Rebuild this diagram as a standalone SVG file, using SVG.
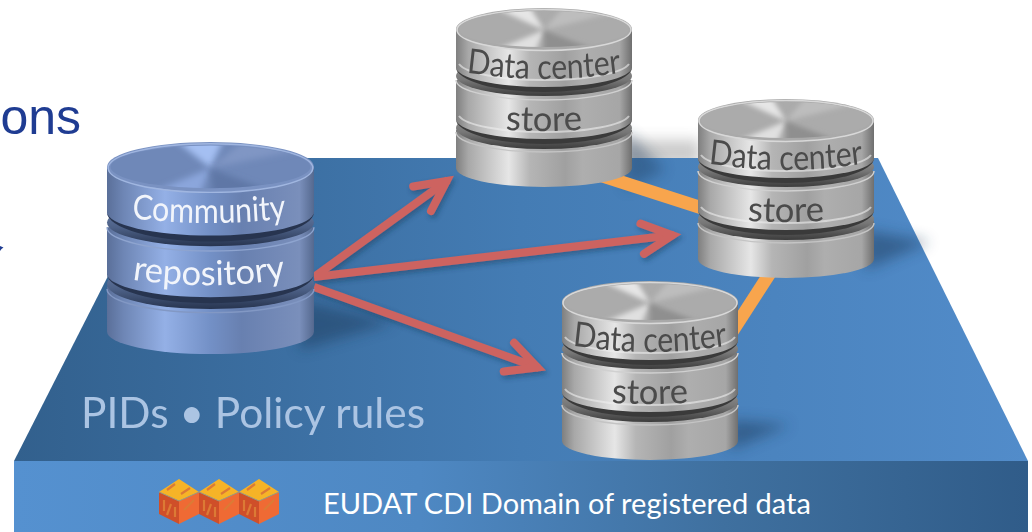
<svg xmlns="http://www.w3.org/2000/svg" width="1032" height="532" viewBox="0 0 1032 532">
<style>
text{font-family:"Lato","Carlito","Liberation Sans",sans-serif}
.dc{font-size:34.5px;fill:#4b4b4b;text-anchor:middle}
.st{font-size:34.5px;fill:#4b4b4b;text-anchor:middle}
.co{font-size:34.5px;fill:#f2f5fb;text-anchor:middle}
.red{fill:none;stroke:#cd6460;stroke-width:8;marker-end:url(#chev)}
.or{fill:none;stroke:#f8a54d;stroke-width:13}
</style>
<defs>
<linearGradient id="plat" x1="0" x2="1" y1="0" y2="0"><stop offset="0" stop-color="#32608d"/><stop offset=".5" stop-color="#447cb4"/><stop offset="1" stop-color="#528cca"/></linearGradient>
<linearGradient id="band" x1="0" x2="1" y1="0" y2="0"><stop offset="0" stop-color="#5591d0"/><stop offset=".4" stop-color="#4e88c3"/><stop offset=".7" stop-color="#3f709f"/><stop offset="1" stop-color="#305c89"/></linearGradient>
<linearGradient id="gs" x1="0" x2="1" y1="0" y2="0"><stop offset="0" stop-color="#7f7f7f"/><stop offset=".07" stop-color="#a8a8a8"/><stop offset=".3" stop-color="#e6e6e6"/><stop offset=".42" stop-color="#b5b5b5"/><stop offset=".62" stop-color="#a0a0a0"/><stop offset=".72" stop-color="#aeaeae"/><stop offset=".93" stop-color="#a6a6a6"/><stop offset="1" stop-color="#6f6f6f"/></linearGradient>
<linearGradient id="bs" x1="0" x2="1" y1="0" y2="0"><stop offset="0" stop-color="#5a6f99"/><stop offset=".08" stop-color="#6e86b5"/><stop offset=".28" stop-color="#94b0e6"/><stop offset=".5" stop-color="#7390c6"/><stop offset=".65" stop-color="#6880b0"/><stop offset=".93" stop-color="#7a8fbb"/><stop offset="1" stop-color="#55698f"/></linearGradient>
<linearGradient id="gd" x1="0" x2="0" y1="0" y2="1"><stop offset="0" stop-color="#a0a0a0"/><stop offset=".6" stop-color="#777"/><stop offset="1" stop-color="#3c3c3c"/></linearGradient>
<linearGradient id="bd" x1="0" x2="0" y1="0" y2="1"><stop offset="0" stop-color="#7389b5"/><stop offset=".6" stop-color="#4d6187"/><stop offset="1" stop-color="#27344f"/></linearGradient>
<filter id="b2" x="-40%" y="-40%" width="180%" height="180%"><feGaussianBlur stdDeviation="2.500"/></filter>
<filter id="b8" x="-40%" y="-60%" width="180%" height="220%"><feGaussianBlur stdDeviation="7"/></filter>
<filter id="sh" x="-10%" y="-20%" width="120%" height="150%"><feDropShadow dx="2" dy="3" stdDeviation="2.500" flood-color="#1c3858" flood-opacity=".45"/></filter>
<clipPath id="tc"><ellipse cx="88" cy="21" rx="85" ry="18"/></clipPath>
<marker id="chev" markerUnits="strokeWidth" markerWidth="8" markerHeight="8" refX="5.300" refY="3" orient="auto" overflow="visible"><path d="M1.300 1.100L5.100 3L1.300 4.900" fill="none" stroke="#cd6460" stroke-width="1" stroke-linecap="round"/></marker>
<g id="gcyl">
<path d="M0 122V160A88 19 0 0 0 176 160V122Z" fill="url(#gs)"/>
<ellipse cx="88" cy="120" rx="88" ry="21" fill="url(#gd)"/>
<path d="M0 124A88 20 0 0 0 176 124" fill="none" stroke="#c4c4c4" stroke-width="1.500"/>
<path d="M0 72V112A88 20 0 0 0 176 112V72Z" fill="url(#gs)"/>
<path d="M0 111A88 20 0 0 0 176 111A88 25 0 0 1 0 111Z" fill="#3a3a3a"/>
<path d="M3 108A86 19 0 0 0 173 108" fill="none" stroke="#eee" stroke-width="2" opacity=".6"/>
<ellipse cx="88" cy="68" rx="88" ry="20" fill="url(#gd)"/>
<path d="M0 72A88 20 0 0 0 176 72" fill="none" stroke="#d0d0d0" stroke-width="1.500"/>
<path d="M0 21V60A88 20 0 0 0 176 60V21Z" fill="url(#gs)"/>
<path d="M0 59A88 20 0 0 0 176 59A88 25 0 0 1 0 59Z" fill="#3a3a3a"/>
<path d="M3 56A86 19 0 0 0 173 56" fill="none" stroke="#eee" stroke-width="2" opacity=".6"/>
<ellipse cx="88" cy="21" rx="88" ry="21" fill="#a9a9a9"/>
<ellipse cx="88" cy="22" rx="87" ry="20.500" fill="none" stroke="#d8d8d8" stroke-width="1.500"/>
<g clip-path="url(#tc)"><rect x="0" y="0" width="176" height="44" fill="#ababab"/>
<path d="M88 22L30 -4L72 -4Z" fill="#e6e6e6" filter="url(#b2)"/>
<path d="M88 22L30 46L78 46Z" fill="#e0e0e0" filter="url(#b2)"/>
<path d="M88 22L110 -4L176 0Z" fill="#bdbdbd" filter="url(#b2)"/>
<path d="M88 22L88 46L150 46Z" fill="#8f8f8f" filter="url(#b2)"/>
</g>
</g>
<g id="bcyl">
<path d="M0 122V160A88 19 0 0 0 176 160V122Z" fill="url(#bs)"/>
<ellipse cx="88" cy="120" rx="88" ry="21" fill="url(#bd)"/>
<path d="M0 124A88 20 0 0 0 176 124" fill="none" stroke="#8298c4" stroke-width="1.200"/>
<path d="M0 72V112A88 20 0 0 0 176 112V72Z" fill="url(#bs)"/>
<path d="M0 111A88 20 0 0 0 176 111A88 25 0 0 1 0 111Z" fill="#27344f"/>
<ellipse cx="88" cy="68" rx="88" ry="20" fill="url(#bd)"/>
<path d="M0 72A88 20 0 0 0 176 72" fill="none" stroke="#8ea4cf" stroke-width="1.200"/>
<path d="M0 21V60A88 20 0 0 0 176 60V21Z" fill="url(#bs)"/>
<path d="M0 59A88 20 0 0 0 176 59A88 25 0 0 1 0 59Z" fill="#27344f"/>
<ellipse cx="88" cy="21" rx="88" ry="21" fill="#7a92c2"/>
<ellipse cx="88" cy="22" rx="87" ry="20.500" fill="none" stroke="#a0b6e0" stroke-width="1.200"/>
<g clip-path="url(#tc)"><rect x="0" y="0" width="176" height="44" fill="#6f88b8"/>
<path d="M88 22L55 -4L100 -4Z" fill="#a4bff2" filter="url(#b2)"/>
<path d="M88 22L30 46L78 46Z" fill="#8ba6dc" filter="url(#b2)"/>
<path d="M88 22L120 -4L176 4Z" fill="#8096c4" filter="url(#b2)"/>
<path d="M88 22L90 46L150 46Z" fill="#5f77a6" filter="url(#b2)"/>
</g>
</g>
<path id="pd" d="M-10 63Q88 79 186 63"/>
<path id="ps" d="M30 120Q88 126 146 120"/>
<path id="pc" d="M-10 73Q102 89 214 73"/>
<path id="pr" d="M15 136Q102 151 189 135"/>
<g id="cube">
<path d="M0 13L20 0L40 13L20 22Z" fill="#f6b327"/>
<path d="M0 13L20 22V45L0 35Z" fill="#cf4f29"/>
<path d="M40 13L20 22V45L40 35Z" fill="#ef6a34"/>
<path d="M20 22L40 13M0 13L20 22" stroke="#9a9a80" stroke-width="1"/>
<path d="M8 11L16 5M22 15L31 9M5 21V32M12 25L8 36M16 28V38M25 31L35 21" fill="none" stroke="#dc7a35" stroke-width="2.200"/>
</g>
</defs>
<rect width="1032" height="532" fill="#fff"/>
<text x="81" y="134" text-anchor="end" style="font-family:'Liberation Sans',Arial,sans-serif;font-size:50px" fill="#1f3c92">ons</text>
<path d="M0 246L3.500 247.500L1.500 249L0 251Z" fill="#1f3c92"/>
<g id="shadow-top"><path d="M600 140L700 140L700 165L600 165Z" fill="#555" opacity=".3" filter="url(#b8)"/></g>
<polygon id="platform" points="168,158 878,158 1028,461 14,461" fill="url(#plat)"/>
<rect id="band-rect" x="14" y="461" width="1014" height="71" fill="url(#band)"/>
<g id="shadows" fill="#1d3a5c" opacity=".5">
<path d="M300 300L395 322L300 350Z" filter="url(#b8)"/>
<path d="M625 130L665 170L625 190Z" filter="url(#b8)" opacity=".8"/>
<path d="M865 230L930 242L865 270Z" filter="url(#b8)"/>
<path d="M730 420L790 425L730 450Z" filter="url(#b8)"/>
</g>
<text id="caption" x="81" y="428" style="font-size:42.400px" fill="#abc4e3">PIDs • Policy rules</text>
<g id="connectors">
<g id="links"><path class="or" d="M590 172L702 208"/><path class="or" d="M772 270L730 335"/></g>
<g id="arrows" filter="url(#sh)">
<path class="red" d="M314 277L448 180"/>
<path class="red" d="M314 277L674 235"/>
<path class="red" d="M314 287L539 368"/>
</g>
</g>
<g id="community-repository" transform="translate(107 142)">
<use href="#bcyl" transform="scale(1.176 1.185)"/>
<text class="co" transform="translate(102 0) scale(.88 1) translate(-102 0)"><textPath href="#pc" startOffset="50%">Community</textPath></text>
<text class="co"><textPath href="#pr" startOffset="50%">repository</textPath></text>
</g>
<g id="data-center-1" transform="translate(456 8)"><use href="#gcyl"/>
<text class="dc" transform="translate(88 0) scale(.875 1) translate(-88 0)"><textPath href="#pd" startOffset="50%">Data center</textPath></text>
<text class="st"><textPath href="#ps" startOffset="50%">store</textPath></text></g>
<g id="data-center-2" transform="translate(698 99)"><use href="#gcyl"/>
<text class="dc" transform="translate(88 0) scale(.875 1) translate(-88 0)"><textPath href="#pd" startOffset="50%">Data center</textPath></text>
<text class="st"><textPath href="#ps" startOffset="50%">store</textPath></text></g>
<g id="data-center-3" transform="translate(562 281)"><use href="#gcyl"/>
<text class="dc" transform="translate(88 0) scale(.875 1) translate(-88 0)"><textPath href="#pd" startOffset="50%">Data center</textPath></text>
<text class="st"><textPath href="#ps" startOffset="50%">store</textPath></text></g>
<g id="logo" transform="translate(0 479)"><use href="#cube" x="159"/><use href="#cube" x="199"/><use href="#cube" x="239"/></g>
<text id="domain" x="323" y="514" style="font-size:29px" fill="#fff">EUDAT CDI Domain of registered data</text>
</svg>
